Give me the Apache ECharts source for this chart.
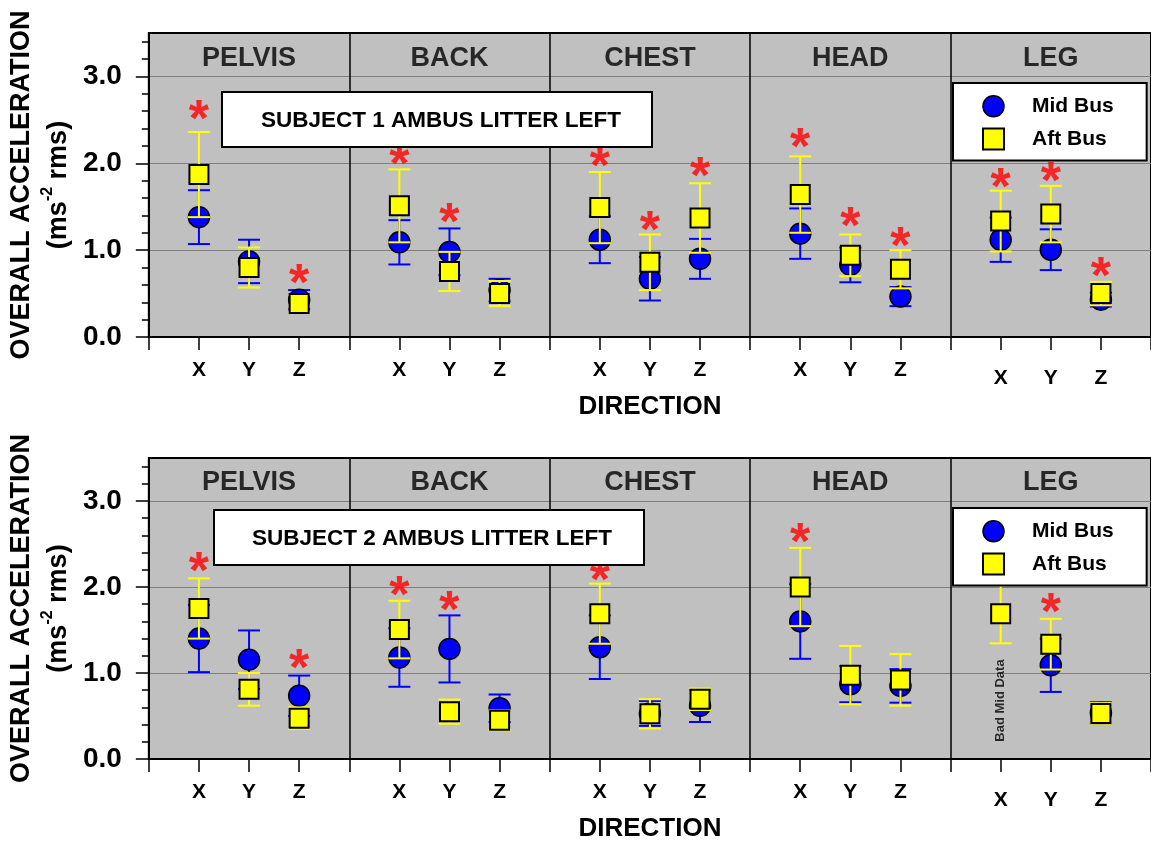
<!DOCTYPE html>
<html>
<head>
<meta charset="utf-8">
<script src="https://cdn.jsdelivr.net/npm/echarts@6/dist/echarts.min.js"></script>
<style>
html,body{margin:0;padding:0;background:#fff;}
#main{width:1151px;height:843px;}
</style>
</head>
<body>
<div id="main"></div>
<script>
// ---------------- data ----------------
const groups = ['PELVIS', 'BACK', 'CHEST', 'HEAD', 'LEG'];
const directions = ['X', 'Y', 'Z'];
const yTicks = [0, 1, 2, 3];

// Subject 1 (top panel)
const s1MidMean = [1.38, 0.87, 0.43,  1.09, 0.98, 0.54,  1.12, 0.67, 0.90,  1.19, 0.83, 0.465,  1.12, 1.005, 0.43];
const s1MidErr  = [0.31, 0.25, 0.11,  0.255, 0.27, 0.13, 0.27, 0.25, 0.23,  0.29, 0.20, 0.11,   0.255, 0.235, 0.08];
const s1AftMean = [1.87, 0.80, 0.385, 1.51, 0.755, 0.50, 1.49, 0.86, 1.37,  1.64, 0.94, 0.78,   1.335, 1.415, 0.50];
const s1AftErr  = [0.49, 0.23, 0.105, 0.42, 0.225, 0.145, 0.41, 0.32, 0.40, 0.44, 0.24, 0.22,   0.35, 0.325, 0.135];
const s1Star    = [2.62, null, 0.73,  2.10, 1.43, null,  2.08, 1.34, 1.96,  2.29, 1.385, 1.16,  1.83, 1.90, 0.81];

// Subject 2 (bottom panel)
const s2MidMean = [1.40, 1.155, 0.735, 1.18, 1.28, 0.59,  1.30, 0.53, 0.62,  1.60, 0.87, 0.85,  null, 1.09, 0.535];
const s2MidErr  = [0.39, 0.34, 0.235,  0.34, 0.39, 0.16,  0.37, 0.145, 0.19, 0.435, 0.21, 0.195, null, 0.31, 0.125];
const s2AftMean = [1.75, 0.81, 0.475,  1.505, 0.55, 0.45, 1.69, 0.525, 0.695, 2.00, 0.975, 0.92, 1.69, 1.335, 0.53];
const s2AftErr  = [0.35, 0.19, 0.125,  0.335, 0.14, 0.115, 0.35, 0.17, 0.125, 0.455, 0.34, 0.30, 0.345, 0.295, 0.12];
const s2Star    = [2.30, null, 1.165,  2.02, 1.845, null, 2.19, null, null,  2.63, null, null,  null, 1.82, null];

const panelTitles = ['SUBJECT 1 AMBUS LITTER LEFT', 'SUBJECT 2 AMBUS LITTER LEFT'];
const badDataNote = 'Bad Mid Data';
const badDataIndex = 12; // LEG X of subject 2

// ---------------- layout helpers ----------------
const FONT = 'Arial, "Liberation Sans", Helvetica, sans-serif';
const BLUE = '#0000ff', YELLOW = '#ffff00';
const xPos = [];
groups.forEach((g, gi) => directions.forEach((d, di) => xPos.push(gi * 4 + di + 1)));

const minorVals = [];
for (let k = 1; k < 18; k++) if (k % 5 !== 0) minorVals.push(+(k * 0.2).toFixed(1));

const xLabelVals = xPos.slice();
const xTickVals = [];
for (let k = 0; k <= 20; k++) xTickVals.push(k);

function makeXAxis(gi) {
  return {
    gridIndex: gi, type: 'value', min: 0, max: 20, interval: 1,
    axisLine: {show: true, lineStyle: {color: '#000', width: 2}},
    axisTick: {show: true, length: 13, inside: false, lineStyle: {color: '#000', width: 1.5}, customValues: xTickVals},
    axisLabel: {
      show: true, margin: 23, customValues: xLabelVals,
      formatter: v => {
        const d = directions[(Math.round(v) % 4) - 1] || '';
        return (v >= 16 ? '{l|' : '{n|') + d + '}';
      },
      rich: {
        n: {fontFamily: FONT, fontSize: 21, fontWeight: 'bold', color: '#000'},
        l: {fontFamily: FONT, fontSize: 21, fontWeight: 'bold', color: '#000', padding: [8, 0, 0, 0]}
      }
    },
    splitLine: {show: false},
    name: 'DIRECTION', nameLocation: 'middle', nameGap: 57,
    nameTextStyle: {fontFamily: FONT, fontSize: 26, fontWeight: 'bold', color: '#000'}
  };
}
function makeYAxis(gi) {
  return {
    gridIndex: gi, type: 'value', min: 0, max: 3.5, interval: 1,
    axisLine: {show: true, lineStyle: {color: '#000', width: 2}},
    axisTick: {show: true, length: 13, lineStyle: {color: '#000', width: 1.5}, customValues: yTicks},
    axisLabel: {
      show: true, margin: 27, customValues: yTicks,
      formatter: v => v.toFixed(1),
      fontFamily: FONT, fontSize: 28, fontWeight: 'bold', color: '#000'
    },
    splitLine: {show: true, lineStyle: {color: '#7f7f7f', width: 1}},
    name: '{a|OVERALL ACCELERATION}\n{b|(ms}{s|-2}{b| rms)}',
    nameLocation: 'middle', nameRotate: 90, nameGap: 62,
    nameTextStyle: {
      rich: {
        a: {fontFamily: FONT, fontSize: 27, fontWeight: 'bold', color: '#000', lineHeight: 37},
        b: {fontFamily: FONT, fontSize: 27, fontWeight: 'bold', color: '#000', lineHeight: 37},
        s: {fontFamily: FONT, fontSize: 16, fontWeight: 'bold', color: '#000', verticalAlign: 'top', lineHeight: 37, padding: [0, 0, 0, 0]}
      }
    }
  };
}
function makeMinorYAxis(gi) {
  return {
    gridIndex: gi, type: 'value', min: 0, max: 3.5, interval: 0.2, position: 'left',
    axisLine: {show: false},
    axisTick: {show: true, length: 7, lineStyle: {color: '#000', width: 1.5}, customValues: minorVals},
    axisLabel: {show: false},
    splitLine: {show: false}
  };
}

function errBarSeries(gi, yIdx, means, errs, color, z) {
  const data = [];
  means.forEach((m, i) => { if (m != null) data.push([xPos[i], m - errs[i], m + errs[i]]); });
  return {
    type: 'custom', xAxisIndex: gi, yAxisIndex: yIdx, z: z, silent: true,
    data: data, encode: {x: 0, y: [1, 2]},
    renderItem: (params, api) => {
      const x = api.value(0);
      const lo = api.coord([x, api.value(1)]);
      const hi = api.coord([x, api.value(2)]);
      const hw = 11;
      const st = {stroke: color, lineWidth: 2};
      return {type: 'group', children: [
        {type: 'line', shape: {x1: lo[0], y1: lo[1], x2: hi[0], y2: hi[1]}, style: st},
        {type: 'line', shape: {x1: hi[0] - hw, y1: hi[1], x2: hi[0] + hw, y2: hi[1]}, style: st},
        {type: 'line', shape: {x1: lo[0] - hw, y1: lo[1], x2: lo[0] + hw, y2: lo[1]}, style: st}
      ]};
    }
  };
}
function pointSeries(gi, yIdx, name, means, symbol, size, color, bw, z) {
  const data = [];
  means.forEach((m, i) => { if (m != null) data.push([xPos[i], m]); });
  return {
    type: 'scatter', name: name, xAxisIndex: gi, yAxisIndex: yIdx, z: z,
    symbol: symbol, symbolSize: size, data: data,
    itemStyle: {color: color, borderColor: '#000', borderWidth: bw, opacity: 1}
  };
}
function starSeries(gi, yIdx, stars) {
  const data = [];
  stars.forEach((s, i) => { if (s != null) data.push([xPos[i], s]); });
  return {
    type: 'scatter', xAxisIndex: gi, yAxisIndex: yIdx, z: 20, silent: true,
    symbolSize: 1, itemStyle: {color: 'transparent'}, data: data,
    label: {show: true, position: 'inside', formatter: '*', offset: [0, 12],
      fontFamily: FONT, fontSize: 52, fontWeight: 'bold', color: '#ff0000'}
  };
}
function groupLabelSeries(gi, yIdx) {
  return {
    type: 'scatter', xAxisIndex: gi, yAxisIndex: yIdx, z: 20, silent: true,
    symbolSize: 1, itemStyle: {color: 'transparent'},
    data: groups.map((g, i) => ({name: g, value: [i * 4 + 2, 3.21]})),
    label: {show: true, position: 'inside', formatter: '{b}',
      fontFamily: FONT, fontSize: 27, fontWeight: 'bold', color: '#000'},
    markLine: {
      silent: true, symbol: ['none', 'none'], label: {show: false},
      lineStyle: {color: '#000', width: 1.5, type: 'solid'},
      data: [4, 8, 12, 16].map(v => ({xAxis: v}))
    }
  };
}

const legendCommon = {
  orient: 'vertical', left: 953, itemWidth: 21, itemHeight: 21, itemGap: 10,
  backgroundColor: '#fff', borderColor: '#000', borderWidth: 2, borderRadius: 0,
  padding: [12, 33, 10, 29],
  textStyle: {fontFamily: FONT, fontSize: 21, fontWeight: 'bold', color: '#000', padding: [0, 0, 0, 23]},
  data: [
    {name: 'Mid Bus', icon: 'circle', itemStyle: {color: BLUE, borderColor: '#000', borderWidth: 1.5}},
    {name: 'Aft Bus', icon: 'rect', itemStyle: {color: YELLOW, borderColor: '#000', borderWidth: 2}}
  ],
  selectedMode: false, z: 30
};

const series = [];
[[s1MidMean, s1MidErr, s1AftMean, s1AftErr, s1Star], [s2MidMean, s2MidErr, s2AftMean, s2AftErr, s2Star]].forEach((p, gi) => {
  const yIdx = gi * 2;
  series.push(groupLabelSeries(gi, yIdx));
  series.push(errBarSeries(gi, yIdx, p[0], p[1], BLUE, 3));
  series.push(pointSeries(gi, yIdx, 'Mid Bus', p[0], 'circle', 21, BLUE, 1.5, 4));
  series.push(errBarSeries(gi, yIdx, p[2], p[3], YELLOW, 5));
  series.push(pointSeries(gi, yIdx, 'Aft Bus', p[2], 'rect', 19, YELLOW, 2, 6));
  series.push(starSeries(gi, yIdx, p[4]));
});
// note for missing mid-bus data
series.push({
  type: 'scatter', xAxisIndex: 1, yAxisIndex: 2, z: 20, silent: true,
  symbolSize: 1, itemStyle: {color: 'transparent'},
  data: [{name: badDataNote, value: [xPos[badDataIndex], 0.68]}],
  label: {show: true, position: 'inside', formatter: '{b}', rotate: 90,
    fontFamily: FONT, fontSize: 13, fontWeight: 'bold', color: '#000'}
});

const option = {
  animation: false,
  backgroundColor: '#ffffff',
  textStyle: {fontFamily: FONT},
  grid: [
    {left: 147, top: 33, right: -6, height: 304, show: true, backgroundColor: '#c0c0c0', borderColor: '#000', borderWidth: 2, containLabel: false},
    {left: 147, top: 458, right: -6, height: 304, show: true, backgroundColor: '#c0c0c0', borderColor: '#000', borderWidth: 2, containLabel: false}
  ],
  xAxis: [makeXAxis(0), makeXAxis(1)],
  yAxis: [makeYAxis(0), makeMinorYAxis(0), makeYAxis(1), makeMinorYAxis(1)],
  legend: [
    Object.assign({}, legendCommon, {top: 83}),
    Object.assign({}, legendCommon, {top: 508})
  ],
  graphic: [
    {type: 'rect', z: 50, shape: {x: 222, y: 92, width: 430, height: 55}, style: {fill: '#fff', stroke: '#000', lineWidth: 2}},
    {type: 'text', z: 51, x: 441, y: 121, style: {text: panelTitles[0], font: 'bold 22.5px ' + FONT, fill: '#000', align: 'center', verticalAlign: 'middle'}},
    {type: 'rect', z: 50, shape: {x: 214, y: 510, width: 430, height: 55}, style: {fill: '#fff', stroke: '#000', lineWidth: 2}},
    {type: 'text', z: 51, x: 432, y: 539, style: {text: panelTitles[1], font: 'bold 22.5px ' + FONT, fill: '#000', align: 'center', verticalAlign: 'middle'}}
  ],
  series: series
};

const chart = echarts.init(document.getElementById('main'), null, {renderer: 'canvas'});
chart.setOption(option);
</script>
</body>
</html>
